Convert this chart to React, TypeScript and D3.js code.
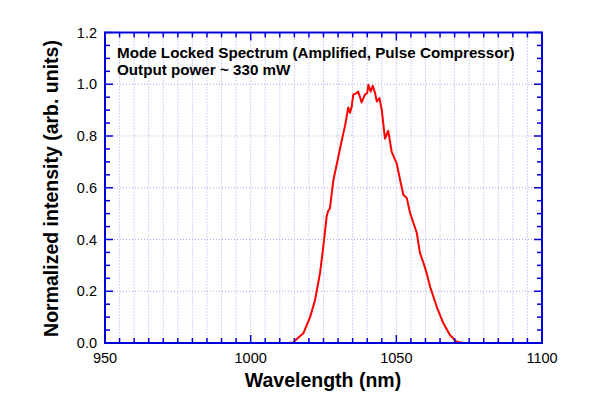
import React from "react";
import * as d3 from "d3";

const wavelengths = [950, 1012.8, 1014.6, 1016.2, 1018.1, 1020.4, 1022.1, 1023.8, 1024.9, 1026.1, 1026.6, 1027.2, 1028.4, 1030.1, 1031.2, 1032.4, 1033.5, 1034.1, 1034.7, 1035.2, 1036.4, 1036.9, 1038.1, 1039.2, 1040.0, 1040.4, 1041.2, 1041.9, 1042.7, 1043.3, 1044.2, 1045.0, 1046.1, 1047.2, 1048.4, 1049.5, 1050.1, 1051.3, 1052.4, 1053.6, 1054.7, 1057.0, 1058.1, 1059.3, 1060.4, 1061.6, 1063.9, 1066.1, 1068.4, 1070.7, 1073, 1100];
const intensity = [0, 0, 0.002, 0.019, 0.038, 0.10, 0.166, 0.27, 0.37, 0.49, 0.51, 0.52, 0.63, 0.72, 0.78, 0.84, 0.91, 0.89, 0.914, 0.96, 0.966, 0.972, 0.93, 0.96, 0.966, 0.998, 0.972, 0.994, 0.966, 0.933, 0.947, 0.90, 0.79, 0.82, 0.74, 0.71, 0.695, 0.63, 0.573, 0.56, 0.503, 0.426, 0.348, 0.31, 0.27, 0.217, 0.139, 0.077, 0.031, 0.005, 0, 0];

const xTickLabels = [950, 1000, 1050, 1100];
const yTickLabels = [0, 0.2, 0.4, 0.6, 0.8, 1.0, 1.2];
const titleLines = ["Mode Locked Spectrum (Amplified, Pulse Compressor)", "Output power ~ 330 mW"];

const W = 600, H = 400;
const L = 105, R = 542, T = 32.5, B = 343;
const FONT = "'Liberation Sans', Arial, Helvetica, sans-serif";
const BLUE = "#0000dd";

export default function App() {
  const x = d3.scaleLinear().domain([950, 1100]).range([L, R]);
  const y = d3.scaleLinear().domain([0, 1.2]).range([B, T]);
  const data = wavelengths.map((w, i) => [w, intensity[i]] as [number, number]);
  const line = d3.line<[number, number]>().x(d => x(d[0])).y(d => y(d[1]));

  const xMinor = d3.range(950, 1100.001, 5);
  const yMinor = d3.range(0, 1.2001, 0.05);

  return (
    <svg width={W} height={H} style={{ position: "absolute", left: 0, top: 0, background: "#fff" }}>
      <rect x={0} y={0} width={W} height={H} fill="#fff" />
      {/* grid */}
      {xMinor.slice(1, -1).map((v, i) => (
        <line key={"gx" + i} x1={x(v)} x2={x(v)} y1={T} y2={B} stroke="#a8a8f0" strokeWidth={1} strokeDasharray="1,2" />
      ))}
      {yTickLabels.slice(1, -1).map((v, i) => (
        <line key={"gy" + i} x1={L} x2={R} y1={y(v)} y2={y(v)} stroke="#a8a8f0" strokeWidth={1} strokeDasharray="1,2" />
      ))}
      {/* curve */}
      <path d={line(data) || ""} fill="none" stroke="#ff0000" strokeWidth={2} strokeLinejoin="round" />
      {/* ticks */}
      {xMinor.map((v, i) => {
        const major = xTickLabels.includes(Math.round(v));
        const len = major ? 8 : 5;
        return (
          <g key={"tx" + i}>
            <line x1={x(v)} x2={x(v)} y1={B} y2={B - len} stroke={BLUE} strokeWidth={1.5} />
            <line x1={x(v)} x2={x(v)} y1={T} y2={T + len} stroke={BLUE} strokeWidth={1.5} />
          </g>
        );
      })}
      {yMinor.map((v, i) => {
        const major = i % 4 === 0;
        const len = major ? 8 : 5;
        return (
          <g key={"ty" + i}>
            <line x1={L} x2={L + len} y1={y(v)} y2={y(v)} stroke={BLUE} strokeWidth={1.5} />
            <line x1={R} x2={R - len} y1={y(v)} y2={y(v)} stroke={BLUE} strokeWidth={1.5} />
          </g>
        );
      })}
      <rect x={L} y={T} width={R - L} height={B - T} fill="none" stroke={BLUE} strokeWidth={2} />
      {/* tick labels */}
      {xTickLabels.map(v => (
        <text key={"lx" + v} x={x(v)} y={B + 20} textAnchor="middle" fontFamily={FONT} fontSize={14.5} fill="#000">{v}</text>
      ))}
      {yTickLabels.map(v => (
        <text key={"ly" + v} x={L - 8} y={y(v) + 5} textAnchor="end" fontFamily={FONT} fontSize={14.5} fill="#000">{v.toFixed(1)}</text>
      ))}
      {/* axis titles */}
      <text x={323} y={387} textAnchor="middle" fontFamily={FONT} fontSize={19.5} fontWeight="bold" fill="#000">Wavelength (nm)</text>
      <text transform={`translate(58, 188.5) rotate(-90)`} textAnchor="middle" fontFamily={FONT} fontSize={19.5} fontWeight="bold" fill="#000">Normalized intensity (arb. units)</text>
      {/* title */}
      {titleLines.map((t, i) => (
        <text key={"t" + i} x={117} y={57.5 + i * 17} fontFamily={FONT} fontSize={15.2} fontWeight="bold" fill="#000">{t}</text>
      ))}
    </svg>
  );
}
